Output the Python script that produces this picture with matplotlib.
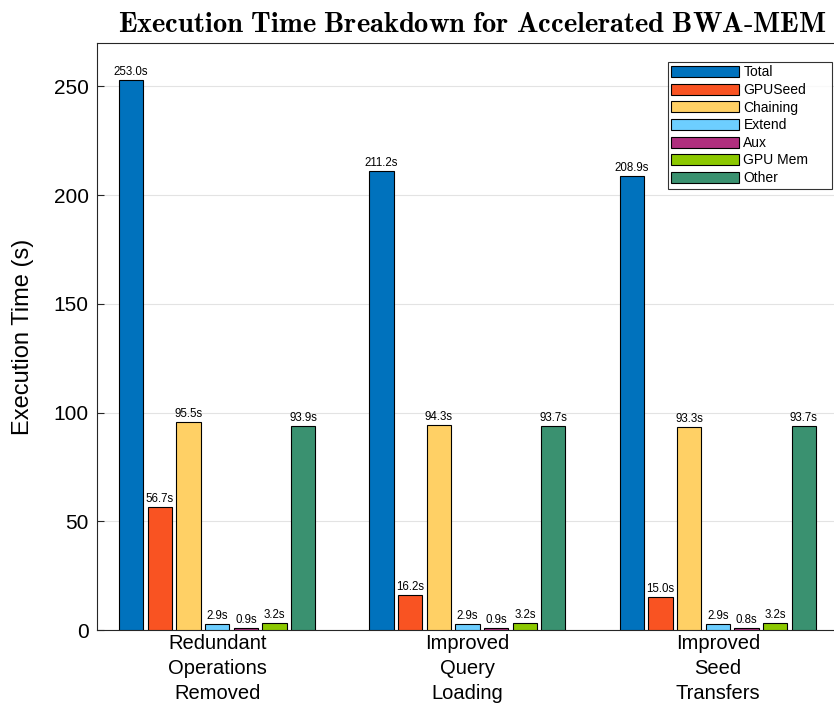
import numpy as np
import matplotlib
matplotlib.use('Agg')
import matplotlib.pyplot as plt

plt.rcParams['font.family'] = ['Liberation Sans', 'DejaVu Sans']
plt.rcParams['mathtext.fontset'] = 'cm'

groups = ['Redundant\nOperations\nRemoved', 'Improved\nQuery\nLoading', 'Improved\nSeed\nTransfers']
series = ['Total', 'GPUSeed', 'Chaining', 'Extend', 'Aux', 'GPU Mem', 'Other']
total = [253.0, 211.2, 208.9]
gpuseed = [56.7, 16.2, 15.0]
chaining = [95.5, 94.3, 93.3]
extend = [2.9, 2.9, 2.9]
aux = [0.9, 0.9, 0.8]
gpumem = [3.2, 3.2, 3.2]
other = [93.9, 93.7, 93.7]
colors = ['#0072BD', '#F95322', '#FFD065', '#6DCEFF', '#B02F7E', '#8CC800', '#3A9170']

values = [total, gpuseed, chaining, extend, aux, gpumem, other]

fig = plt.figure(figsize=(8.34, 7.06), dpi=100)
ax = fig.add_axes([97/834, 76/706, 751/834, 587/706])

x = np.arange(1, 4)
pitch = 0.1145
width = 0.096
for i, (name, v) in enumerate(zip(series, values)):
    pos = x + (i - 3) * pitch
    ax.bar(pos, v, width, color=colors[i], edgecolor='black', linewidth=0.8, label=name, zorder=3)
    for px, val in zip(pos, v):
        ax.text(px, val + 1.0, '%.1fs' % val, ha='center', va='bottom', fontsize=8.3, zorder=4)

ax.set_xlim(0.52, 3.52)
ax.set_ylim(0, 270)
ax.set_yticks([0, 50, 100, 150, 200, 250])
ax.set_xticks(x)
ax.set_xticklabels(groups, fontsize=14.5, linespacing=1.4)
ax.tick_params(axis='y', labelsize=15, direction='in', length=5, color='#262626', pad=6)
ax.tick_params(axis='x', direction='in', length=0, pad=3)
ax.yaxis.grid(True, color='#e3e3e3', linewidth=0.8, zorder=0)
ax.set_axisbelow(True)
for s in ax.spines.values():
    s.set_color('#262626')
    s.set_linewidth(0.8)
ax.set_ylabel('Execution Time (s)', fontsize=17, labelpad=14)
ax.set_title(r'$\mathbf{Execution\ Time\ Breakdown\ for\ Accelerated\ BWA\text{-}MEM}$', fontsize=20.5, pad=8)

leg = ax.legend(loc='upper left', bbox_to_anchor=(0.760, 0.7547, 0.219, 0.213), mode='expand',
                fontsize=10, frameon=True, fancybox=False,
                edgecolor='black', handlelength=4.9, handleheight=0.85, labelspacing=0.26,
                borderpad=0.25, handletextpad=0.3, borderaxespad=0)
leg.get_frame().set_linewidth(0.8)

fig.savefig('out.png', dpi=100)
